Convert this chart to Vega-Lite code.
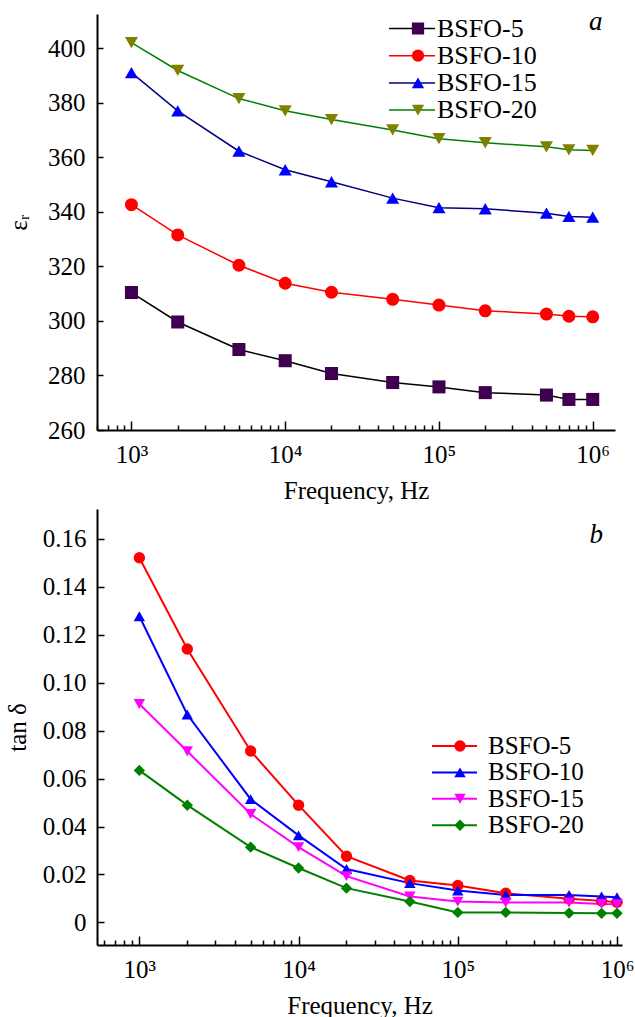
{
  "$schema": "https://vega.github.io/schema/vega-lite/v6.json",
  "background": "white",
  "padding": {"left": 5, "top": 7, "right": 0, "bottom": 0},
  "config": {
    "view": {"stroke": null},
    "font": "Liberation Serif",
    "axis": {
      "labelFont": "Liberation Serif", "titleFont": "Liberation Serif",
      "labelFontSize": 25, "titleFontSize": 25, "titleFontWeight": "normal",
      "labelColor": "black", "titleColor": "black",
      "domainColor": "black", "domainWidth": 2, "tickColor": "black", "tickWidth": 1.5,
      "grid": false, "labelFlush": false, "labelOverlap": false
    },
    "legend": {"labelFont": "Liberation Serif", "labelColor": "black", "labelFontSize": 26, "padding": 0, "title": null}
  },
  "datasets": {
    "eps": [
      {"f": 1000, "series": "BSFO-5", "v": 310.4}, {"f": 2000, "series": "BSFO-5", "v": 299.6}, {"f": 5000, "series": "BSFO-5", "v": 289.5}, {"f": 10000, "series": "BSFO-5", "v": 285.4}, {"f": 20000, "series": "BSFO-5", "v": 280.7}, {"f": 50000, "series": "BSFO-5", "v": 277.4}, {"f": 100000, "series": "BSFO-5", "v": 275.8}, {"f": 200000, "series": "BSFO-5", "v": 273.7}, {"f": 500000, "series": "BSFO-5", "v": 272.8}, {"f": 700000, "series": "BSFO-5", "v": 271.2}, {"f": 1000000, "series": "BSFO-5", "v": 271.2},
      {"f": 1000, "series": "BSFO-10", "v": 342.6}, {"f": 2000, "series": "BSFO-10", "v": 331.5}, {"f": 5000, "series": "BSFO-10", "v": 320.4}, {"f": 10000, "series": "BSFO-10", "v": 313.8}, {"f": 20000, "series": "BSFO-10", "v": 310.5}, {"f": 50000, "series": "BSFO-10", "v": 307.9}, {"f": 100000, "series": "BSFO-10", "v": 305.8}, {"f": 200000, "series": "BSFO-10", "v": 303.7}, {"f": 500000, "series": "BSFO-10", "v": 302.5}, {"f": 700000, "series": "BSFO-10", "v": 301.7}, {"f": 1000000, "series": "BSFO-10", "v": 301.5},
      {"f": 1000, "series": "BSFO-15", "v": 391.0}, {"f": 2000, "series": "BSFO-15", "v": 377.0}, {"f": 5000, "series": "BSFO-15", "v": 362.2}, {"f": 10000, "series": "BSFO-15", "v": 355.4}, {"f": 20000, "series": "BSFO-15", "v": 351.0}, {"f": 50000, "series": "BSFO-15", "v": 345.0}, {"f": 100000, "series": "BSFO-15", "v": 341.5}, {"f": 200000, "series": "BSFO-15", "v": 341.1}, {"f": 500000, "series": "BSFO-15", "v": 339.5}, {"f": 700000, "series": "BSFO-15", "v": 338.3}, {"f": 1000000, "series": "BSFO-15", "v": 338.0},
      {"f": 1000, "series": "BSFO-20", "v": 402.0}, {"f": 2000, "series": "BSFO-20", "v": 391.8}, {"f": 5000, "series": "BSFO-20", "v": 381.5}, {"f": 10000, "series": "BSFO-20", "v": 377.0}, {"f": 20000, "series": "BSFO-20", "v": 373.8}, {"f": 50000, "series": "BSFO-20", "v": 370.0}, {"f": 100000, "series": "BSFO-20", "v": 366.8}, {"f": 200000, "series": "BSFO-20", "v": 365.3}, {"f": 500000, "series": "BSFO-20", "v": 363.8}, {"f": 700000, "series": "BSFO-20", "v": 362.7}, {"f": 1000000, "series": "BSFO-20", "v": 362.5}
    ],
    "tan": [
      {"f": 1000, "series": "BSFO-5", "v": 0.1521}, {"f": 2000, "series": "BSFO-5", "v": 0.1140}, {"f": 5000, "series": "BSFO-5", "v": 0.0715}, {"f": 10000, "series": "BSFO-5", "v": 0.0489}, {"f": 20000, "series": "BSFO-5", "v": 0.0276}, {"f": 50000, "series": "BSFO-5", "v": 0.0175}, {"f": 100000, "series": "BSFO-5", "v": 0.0154}, {"f": 200000, "series": "BSFO-5", "v": 0.0122}, {"f": 500000, "series": "BSFO-5", "v": 0.0099}, {"f": 800000, "series": "BSFO-5", "v": 0.0090}, {"f": 1000000, "series": "BSFO-5", "v": 0.0084},
      {"f": 1000, "series": "BSFO-10", "v": 0.1277}, {"f": 2000, "series": "BSFO-10", "v": 0.0867}, {"f": 5000, "series": "BSFO-10", "v": 0.0514}, {"f": 10000, "series": "BSFO-10", "v": 0.0363}, {"f": 20000, "series": "BSFO-10", "v": 0.0223}, {"f": 50000, "series": "BSFO-10", "v": 0.0164}, {"f": 100000, "series": "BSFO-10", "v": 0.0133}, {"f": 200000, "series": "BSFO-10", "v": 0.0115}, {"f": 500000, "series": "BSFO-10", "v": 0.0115}, {"f": 800000, "series": "BSFO-10", "v": 0.0108}, {"f": 1000000, "series": "BSFO-10", "v": 0.0105},
      {"f": 1000, "series": "BSFO-15", "v": 0.0911}, {"f": 2000, "series": "BSFO-15", "v": 0.0714}, {"f": 5000, "series": "BSFO-15", "v": 0.0452}, {"f": 10000, "series": "BSFO-15", "v": 0.0314}, {"f": 20000, "series": "BSFO-15", "v": 0.0193}, {"f": 50000, "series": "BSFO-15", "v": 0.0108}, {"f": 100000, "series": "BSFO-15", "v": 0.0087}, {"f": 200000, "series": "BSFO-15", "v": 0.0083}, {"f": 500000, "series": "BSFO-15", "v": 0.0083}, {"f": 800000, "series": "BSFO-15", "v": 0.0077}, {"f": 1000000, "series": "BSFO-15", "v": 0.0076},
      {"f": 1000, "series": "BSFO-20", "v": 0.0634}, {"f": 2000, "series": "BSFO-20", "v": 0.0489}, {"f": 5000, "series": "BSFO-20", "v": 0.0314}, {"f": 10000, "series": "BSFO-20", "v": 0.0227}, {"f": 20000, "series": "BSFO-20", "v": 0.0143}, {"f": 50000, "series": "BSFO-20", "v": 0.0087}, {"f": 100000, "series": "BSFO-20", "v": 0.0042}, {"f": 200000, "series": "BSFO-20", "v": 0.0042}, {"f": 500000, "series": "BSFO-20", "v": 0.0039}, {"f": 800000, "series": "BSFO-20", "v": 0.0038}, {"f": 1000000, "series": "BSFO-20", "v": 0.0038}
    ],
    "labA": [{"panel": "a"}],
    "labB": [{"panel": "b"}]
  },
  "bounds": "flush",
  "spacing": 79,
  "resolve": {"scale": {"stroke": "independent", "fill": "independent", "shape": "independent"}},
  "vconcat": [
    {
      "width": 518, "height": 416,
      "layer": [
        {"data": {"name": "eps"},
         "mark": {"type": "line", "strokeWidth": 1.5},
         "encoding": {
           "x": {"field": "f", "type": "quantitative",
             "scale": {"type": "log", "domain": [597, 1396000], "nice": false},
             "axis": {"title": "Frequency, Hz",
               "values": [600,700,800,900,1000,2000,3000,4000,5000,6000,7000,8000,9000,10000,20000,30000,40000,50000,60000,70000,80000,90000,100000,200000,300000,400000,500000,600000,700000,800000,900000,1000000],
               "labelExpr": "datum.value==1000?'10³':datum.value==10000?'10⁴':datum.value==100000?'10⁵':datum.value==1000000?'10⁶':''",
               "tickSize": {"condition": {"test": "datum.value==1000||datum.value==10000||datum.value==100000||datum.value==1000000", "value": -9}, "value": -5},
               "labelPadding": 21, "titlePadding": 7}},
           "y": {"field": "v", "type": "quantitative",
             "scale": {"domain": [260, 412.5], "nice": false, "zero": false},
             "axis": {"title": "εᵣ",
               "values": [260,270,280,290,300,310,320,330,340,350,360,370,380,390,400,410],
               "labelExpr": "datum.value % 20 == 0 ? datum.label : ''",
               "tickSize": -6, "labelPadding": 18, "titlePadding": 16}},
           "stroke": {"field": "series", "type": "nominal",
             "scale": {"domain": ["BSFO-5", "BSFO-10", "BSFO-15", "BSFO-20"], "range": ["#000000", "#ff0000", "#000080", "#008000"]},
             "legend": {"orient": "none", "legendX": 291, "legendY": 1.5, "symbolType": "stroke", "symbolSize": 2116, "symbolStrokeWidth": 1.5, "clipHeight": 26, "rowPadding": 1.2, "labelOffset": 1}}}},
        {"data": {"name": "eps"},
         "mark": {"type": "point", "filled": true, "size": 170, "opacity": 1, "strokeWidth": 0},
         "encoding": {
           "x": {"field": "f", "type": "quantitative"},
           "y": {"field": "v", "type": "quantitative"},
           "fill": {"field": "series", "type": "nominal",
             "scale": {"domain": ["BSFO-5", "BSFO-10", "BSFO-15", "BSFO-20", "_"], "range": ["#3f0050", "#ff0000", "#0000ff", "#808000", "transparent"]},
             "legend": {"orient": "none", "legendX": 291, "legendY": 1.5, "values": ["BSFO-5", "BSFO-10", "BSFO-15", "BSFO-20"], "symbolSize": 150, "symbolStrokeWidth": 0, "symbolOffset": 17, "clipHeight": 26, "rowPadding": 1.2, "labelExpr": "''", "zindex": 1}},
           "shape": {"field": "series", "type": "nominal",
             "scale": {"domain": ["BSFO-5", "BSFO-10", "BSFO-15", "BSFO-20", "_"], "range": ["square", "circle", "triangle-up", "triangle-down", "circle"]}}
         }},
        {"data": {"name": "labA"},
         "mark": {"type": "text", "align": "right", "baseline": "alphabetic", "font": "Liberation Serif", "fontStyle": "italic", "fontSize": 27, "fill": "black"},
         "encoding": {"text": {"field": "panel", "type": "nominal"}, "x": {"datum": 1156000, "type": "quantitative"}, "y": {"datum": 406.8, "type": "quantitative"}}}
      ]
    },
    {
      "width": 525, "height": 436,
      "layer": [
        {"data": {"name": "tan"},
         "mark": {"type": "line", "strokeWidth": 2},
         "encoding": {
           "x": {"field": "f", "type": "quantitative",
             "scale": {"type": "log", "domain": [542, 1075000], "nice": false},
             "axis": {"title": "Frequency, Hz",
               "values": [600,700,800,900,1000,2000,3000,4000,5000,6000,7000,8000,9000,10000,20000,30000,40000,50000,60000,70000,80000,90000,100000,200000,300000,400000,500000,600000,700000,800000,900000,1000000],
               "labelExpr": "datum.value==1000?'10³':datum.value==10000?'10⁴':datum.value==100000?'10⁵':datum.value==1000000?'10⁶':''",
               "tickSize": {"condition": {"test": "datum.value==1000||datum.value==10000||datum.value==100000||datum.value==1000000", "value": -9}, "value": -5},
               "labelPadding": 21, "titlePadding": 7}},
           "y": {"field": "v", "type": "quantitative",
             "scale": {"domain": [-0.0094, 0.1724], "nice": false, "zero": false},
             "axis": {"title": "tan δ",
               "values": [0,0.01,0.02,0.03,0.04,0.05,0.06,0.07,0.08,0.09,0.1,0.11,0.12,0.13,0.14,0.15,0.16,0.17],
               "labelExpr": "round(datum.value*100) % 2 == 0 ? (datum.value == 0 ? '0' : format(datum.value, '.2f')) : ''",
               "tickSize": -7, "labelPadding": 18, "titlePadding": 12}},
           "stroke": {"field": "series", "type": "nominal",
             "scale": {"domain": ["BSFO-5", "BSFO-10", "BSFO-15", "BSFO-20"], "range": ["#ff0000", "#0000ff", "#ff00ff", "#008000"]},
             "legend": {"orient": "none", "legendX": 334, "legendY": 224.5, "symbolType": "stroke", "symbolSize": 2025, "symbolStrokeWidth": 2, "clipHeight": 25, "rowPadding": 0.4, "labelOffset": 10, "labelFontSize": 25}}}},
        {"data": {"name": "tan"},
         "mark": {"type": "point", "filled": true, "size": 130, "opacity": 1, "strokeWidth": 0},
         "encoding": {
           "x": {"field": "f", "type": "quantitative"},
           "y": {"field": "v", "type": "quantitative"},
           "fill": {"field": "series", "type": "nominal",
             "scale": {"domain": ["BSFO-5", "BSFO-10", "BSFO-15", "BSFO-20", "_"], "range": ["#ff0000", "#0000ff", "#ff00ff", "#008000", "transparent"]},
             "legend": {"orient": "none", "legendX": 334, "legendY": 224.5, "values": ["BSFO-5", "BSFO-10", "BSFO-15", "BSFO-20"], "symbolSize": 130, "symbolStrokeWidth": 0, "symbolOffset": 16.5, "clipHeight": 25, "rowPadding": 0.4, "labelExpr": "''", "labelFontSize": 25, "zindex": 1}},
           "shape": {"field": "series", "type": "nominal",
             "scale": {"domain": ["BSFO-5", "BSFO-10", "BSFO-15", "BSFO-20", "_"], "range": ["circle", "triangle-up", "triangle-down", "diamond", "circle"]}}
         }},
        {"data": {"name": "labB"},
         "mark": {"type": "text", "align": "right", "baseline": "alphabetic", "font": "Liberation Serif", "fontStyle": "italic", "fontSize": 27, "fill": "black"},
         "encoding": {"text": {"field": "panel", "type": "nominal"}, "x": {"datum": 817000, "type": "quantitative"}, "y": {"datum": 0.1582, "type": "quantitative"}}}
      ]
    }
  ]
}
